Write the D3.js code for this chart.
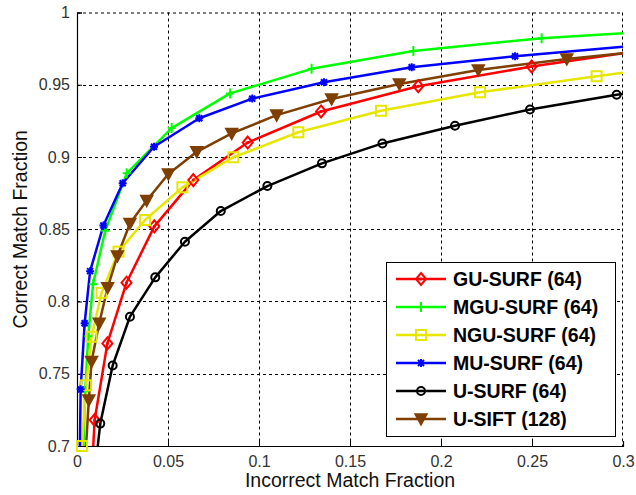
<!DOCTYPE html>
<html>
<head>
<meta charset="utf-8">
<script src="https://cdn.jsdelivr.net/npm/d3@7"></script>
<style>
  body { margin: 0; background: #fff; }
  svg { display: block; font-family: Arial, "Liberation Sans", sans-serif; }
</style>
</head>
<body>
<svg id="chart" width="636" height="495"></svg>
<script>
// Series values (x = incorrect, y = correct match fraction)
const guSurf  = [[0.0085, 0.69], [0.0097, 0.718], [0.0167, 0.771], [0.0272, 0.813], [0.0425, 0.852], [0.0639, 0.884], [0.0938, 0.910], [0.1341, 0.9315], [0.1875, 0.949], [0.2498, 0.9626], [0.30, 0.9718]];
const mguSurf = [[0.0033, 0.69], [0.0045, 0.738], [0.0062, 0.776], [0.0088, 0.812], [0.0155, 0.849], [0.0273, 0.8887], [0.0520, 0.920], [0.0841, 0.944], [0.1289, 0.961], [0.1848, 0.9734], [0.2553, 0.9822], [0.30, 0.9856]];
const nguSurf = [[0.0027, 0.70], [0.0050, 0.742], [0.0080, 0.7756], [0.0135, 0.806], [0.0228, 0.8345], [0.0374, 0.8564], [0.0579, 0.879], [0.0859, 0.8998], [0.1216, 0.9171], [0.1670, 0.932], [0.2214, 0.9448], [0.2855, 0.9559], [0.30, 0.9583]];
const muSurf  = [[0.0015, 0.69], [0.0020, 0.7392], [0.0042, 0.7849], [0.0072, 0.821], [0.0145, 0.8526], [0.0251, 0.8818], [0.0423, 0.9071], [0.0672, 0.9268], [0.0963, 0.9404], [0.1357, 0.9517], [0.1839, 0.9621], [0.2407, 0.9697], [0.30, 0.9763]];
const uSurf   = [[0.0105, 0.69], [0.0128, 0.7155], [0.0196, 0.7557], [0.0291, 0.7895], [0.0430, 0.8167], [0.0593, 0.8414], [0.0790, 0.8626], [0.1046, 0.8799], [0.1346, 0.8956], [0.1678, 0.9094], [0.2077, 0.9216], [0.2489, 0.9329], [0.2965, 0.9431], [0.30, 0.9436]];
const uSift   = [[0.0045, 0.69], [0.0065, 0.7318], [0.0080, 0.7585], [0.0122, 0.785], [0.0168, 0.8095], [0.0222, 0.8315], [0.0291, 0.854], [0.0383, 0.8699], [0.0502, 0.8882], [0.0658, 0.9036], [0.0850, 0.9163], [0.1097, 0.929], [0.1399, 0.9401], [0.1771, 0.9505], [0.2205, 0.9602], [0.2691, 0.9678], [0.30, 0.9718]];

const seriesNames = ["GU-SURF (64)", "MGU-SURF (64)", "NGU-SURF (64)", "MU-SURF (64)", "U-SURF (64)", "U-SIFT (128)"];
const seriesData = [guSurf, mguSurf, nguSurf, muSurf, uSurf, uSift];
const seriesColors = ["#ff0000", "#00ff00", "#e6e600", "#0000ff", "#000000", "#7f3f00"];
const seriesMarkers = ["diamond", "plus", "square", "star", "circle", "triangleDown"];

const xTicks = [0, 0.05, 0.1, 0.15, 0.2, 0.25, 0.3];
const yTicks = [0.7, 0.75, 0.8, 0.85, 0.9, 0.95, 1];

const svg = d3.select("#chart");
const margin = {left: 77, top: 12.5, right: 13, bottom: 49};
const W = 636, H = 495;

const x = d3.scaleLinear().domain([0, 0.3]).range([margin.left, W - margin.right]);
const y = d3.scaleLinear().domain([0.7, 1]).range([H - margin.bottom, margin.top]);

svg.append("defs").append("clipPath").attr("id", "plotClip")
  .append("rect")
  .attr("x", x(0)).attr("y", y(1))
  .attr("width", x(0.3) - x(0)).attr("height", y(0.7) - y(1));

// grid
const grid = svg.append("g");
grid.selectAll(".gx").data(xTicks.slice(1, -1)).enter().append("line")
  .attr("x1", d => Math.round(x(d)) + 0.5).attr("x2", d => Math.round(x(d)) + 0.5)
  .attr("y1", y(1)).attr("y2", y(0.7))
  .attr("stroke", "#000").attr("stroke-width", 1).attr("stroke-dasharray", "3,3");
grid.selectAll(".gy").data(yTicks.slice(1, -1)).enter().append("line")
  .attr("y1", d => Math.round(y(d)) + 0.5).attr("y2", d => Math.round(y(d)) + 0.5)
  .attr("x1", x(0)).attr("x2", x(0.3))
  .attr("stroke", "#000").attr("stroke-width", 1).attr("stroke-dasharray", "3,3");
// dashed top / right edges as in MATLAB grid
grid.append("line").attr("x1", x(0)).attr("x2", x(0.3)).attr("y1", y(1) + 0.5).attr("y2", y(1) + 0.5)
  .attr("stroke", "#000").attr("stroke-dasharray", "3,3");
grid.append("line").attr("x1", x(0.3) - 0.5).attr("x2", x(0.3) - 0.5).attr("y1", y(1)).attr("y2", y(0.7))
  .attr("stroke", "#000").attr("stroke-dasharray", "3,3");

// axes
const xAxis = d3.axisBottom(x).tickValues(xTicks).tickSize(-5).tickPadding(10)
  .tickFormat(d => d === 0 ? "0" : d3.format("")(+d.toFixed(2)));
const yAxis = d3.axisLeft(y).tickValues(yTicks).tickSize(-5).tickPadding(7)
  .tickFormat(d => d3.format("")(+d.toFixed(2)));

const gx = svg.append("g").attr("transform", `translate(0,${y(0.7)})`).call(xAxis);
const gy = svg.append("g").attr("transform", `translate(${x(0)},0)`).call(yAxis);
[gx, gy].forEach(g => {
  g.select(".domain").attr("stroke", "#000").attr("stroke-width", 1.2);
  g.selectAll(".tick line").attr("stroke", "#000");
  g.selectAll(".tick text").attr("font-size", 16).attr("fill", "#333")
    .attr("font-family", "Arial, 'Liberation Sans', sans-serif");
});

// axis titles
svg.append("text").attr("x", (x(0) + x(0.3)) / 2).attr("y", 487)
  .attr("text-anchor", "middle").attr("font-size", 19.5).attr("fill", "#111")
  .text("Incorrect Match Fraction");
svg.append("text").attr("transform", `translate(27,${(y(0.7) + y(1)) / 2}) rotate(-90)`)
  .attr("text-anchor", "middle").attr("font-size", 19.5).attr("fill", "#111")
  .text("Correct Match Fraction");

// marker drawing
function drawMarker(g, type, color) {
  const sw = 2;
  if (type === "diamond") {
    g.append("path").attr("d", "M0,-6L5,0L0,6L-5,0Z").attr("fill", "none").attr("stroke", color).attr("stroke-width", sw);
    g.append("circle").attr("r", 1.5).attr("fill", color);
  } else if (type === "plus") {
    g.append("path").attr("d", "M-4,0H4M0,-5V5").attr("stroke", color).attr("stroke-width", sw);
  } else if (type === "square") {
    g.append("rect").attr("x", -5).attr("y", -5).attr("width", 10).attr("height", 10)
      .attr("fill", "none").attr("stroke", color).attr("stroke-width", sw);
  } else if (type === "star") {
    g.append("path").attr("d", "M-4,0H4M0,-4V4M-3,-3L3,3M-3,3L3,-3").attr("stroke", color).attr("stroke-width", sw);
  } else if (type === "circle") {
    g.append("circle").attr("r", 4).attr("fill", "none").attr("stroke", color).attr("stroke-width", sw);
  } else if (type === "triangleDown") {
    g.append("path").attr("d", "M-6,-5L6,-5L0,6Z").attr("fill", color).attr("stroke", color).attr("stroke-width", 1.5);
  }
}

const line = d3.line().x(d => x(d[0])).y(d => y(d[1]));
const plot = svg.append("g").attr("clip-path", "url(#plotClip)");
const markersLayer = svg.append("g");

// draw in reverse so the first series sits on top, like the reference
seriesData.forEach((data, i) => {
  plot.append("path").datum(data)
    .attr("d", line).attr("fill", "none")
    .attr("stroke", seriesColors[i]).attr("stroke-width", 2.5)
    .attr("stroke-linejoin", "round");
});
seriesData.forEach((data, i) => {
  data.filter(d => d[1] >= 0.7 && d[0] < 0.3).forEach(d => {
    const g = markersLayer.append("g").attr("transform", `translate(${x(d[0])},${y(d[1])})`);
    drawMarker(g, seriesMarkers[i], seriesColors[i]);
  });
});

// legend
const legend = svg.append("g");
legend.append("rect").attr("x", 386.5).attr("y", 262.5).attr("width", 229).attr("height", 174)
  .attr("fill", "#fff").attr("stroke", "#000").attr("stroke-width", 1);
seriesNames.forEach((name, i) => {
  const ly = 279 + i * 28;
  legend.append("line").attr("x1", 396).attr("x2", 446).attr("y1", ly).attr("y2", ly)
    .attr("stroke", seriesColors[i]).attr("stroke-width", 2.5);
  const g = legend.append("g").attr("transform", `translate(421,${ly})`);
  drawMarker(g, seriesMarkers[i], seriesColors[i]);
  legend.append("text").attr("x", 453).attr("y", ly + 7)
    .attr("font-size", 19.5).attr("font-weight", "bold").attr("fill", "#000")
    .text(name);
});
</script>
</body>
</html>
